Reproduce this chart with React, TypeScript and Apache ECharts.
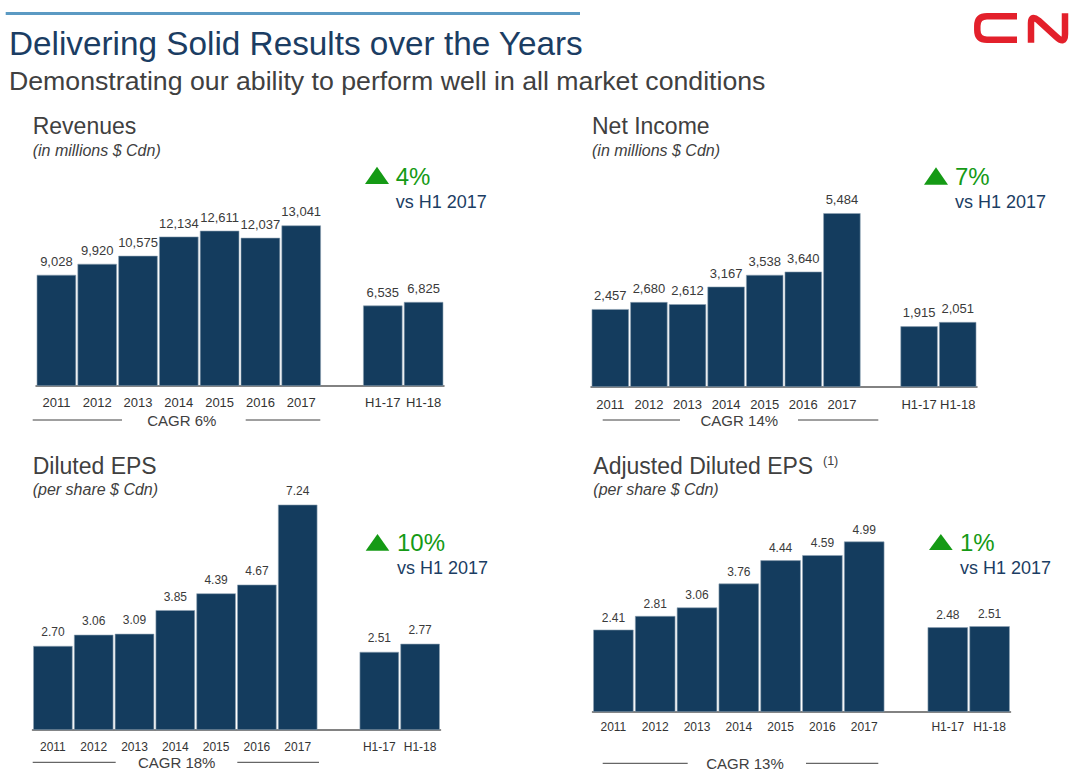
import React, { useEffect, useRef } from "react";
import * as echarts from "echarts";

const categories = ["2011", "2012", "2013", "2014", "2015", "2016", "2017", "", "H1-17", "H1-18"];
const revenues = [9028, 9920, 10575, 12134, 12611, 12037, 13041, null, 6535, 6825];
const netIncome = [2457, 2680, 2612, 3167, 3538, 3640, 5484, null, 1915, 2051];
const dilutedEps = [2.7, 3.06, 3.09, 3.85, 4.39, 4.67, 7.24, null, 2.51, 2.77];
const adjustedEps = [2.41, 2.81, 3.06, 3.76, 4.44, 4.59, 4.99, null, 2.48, 2.51];

const panelTitles = ["Revenues", "Net Income", "Diluted EPS", "Adjusted Diluted EPS"];
const panelSubtitles = ["(in millions $ Cdn)", "(in millions $ Cdn)", "(per share $ Cdn)", "(per share $ Cdn)"];
const growthTexts = ["4%", "7%", "10%", "1%"];
const cagrTexts = ["CAGR 6%", "CAGR 14%", "CAGR 18%", "CAGR 13%"];

const FONT = "'Liberation Sans', Arial, sans-serif";
const BAR = "#143c5e";
const GRAY = "#404040";
const NAVY = "#1b3d63";
const GREEN = "#159a15";

const CN_PATH =
  "M1017 16.3 L987 16.3 Q977.3 16.3 977.3 26 L977.3 30 Q977.3 39.7 987 39.7 L1017 39.7 " +
  "M1031 42.7 L1031 23 Q1031 14.5 1038.5 20.5 L1056 36.5 Q1065 45 1065 34 L1065 13.3";

echarts.graphic.registerShape("cnlogo", echarts.graphic.extendPath(CN_PATH, {}));

const fmtComma = (v: number) => v.toLocaleString("en-US");
const fmtDec = (v: number) => v.toFixed(2);

export default function App() {
  const ref = useRef<HTMLDivElement>(null);

  useEffect(() => {
    if (!ref.current) return;
    const chart = echarts.init(ref.current, null, { renderer: "svg" });

    const grids = [
      { left: 36, top: 189, width: 408, height: 197 },
      { left: 591, top: 181, width: 386, height: 206 },
      { left: 32.5, top: 481, width: 408, height: 249 },
      { left: 592.5, top: 507, width: 418, height: 205 },
    ];
    const maxes = [16000, 6500, 8, 6];
    const datasets = [revenues, netIncome, dilutedEps, adjustedEps];
    const formatters = [fmtComma, fmtComma, fmtDec, fmtDec];
    const labelSizes = [13, 13, 12, 12];
    const axisSizes = [13, 13, 12, 12];
    const axisMargins = [10, 11, 10.5, 9];
    const labelDist = [7, 7, 7.5, 6];

    const text = (x: number, y: number, t: string, size: number, color: string, extra: any = {}) => ({
      type: "text",
      x,
      y,
      silent: true,
      style: {
        text: t,
        fontSize: size,
        fontFamily: FONT,
        fill: color,
        align: "left",
        verticalAlign: "middle",
        ...extra,
      },
    });
    const line = (x1: number, x2: number, y: number) => ({
      type: "line",
      silent: true,
      shape: { x1, y1: y, x2, y2: y },
      style: { stroke: GRAY, lineWidth: 1 },
    });
    const tri = (xl: number, xr: number, yt: number, yb: number) => ({
      type: "polygon",
      silent: true,
      shape: { points: [[xl, yb], [xr, yb], [(xl + xr) / 2, yt]] },
      style: { fill: GREEN },
    });

    const titlePos = [
      [32.7, 125.7, 150.7],
      [592, 125.7, 150.7],
      [32.7, 465.7, 489.3],
      [593.3, 465.7, 489.3],
    ];
    const growthPos = [
      [365, 389, 166.7, 184, 395.7, 176.7, 202.3],
      [924, 948, 167.3, 184.7, 955, 176.7, 202.3],
      [365.7, 389.3, 534, 550.7, 397, 542.3, 568.3],
      [929, 952.7, 534, 550, 960, 542.3, 568.3],
    ];
    const cagrPos = [
      [181.8, 420.7, 32.7, 122, 245.7, 320.3, 420],
      [739.3, 420.7, 602.7, 680, 798, 878.3, 420],
      [176.7, 762.7, 32.7, 115.7, 237.3, 319, 762.3],
      [745, 763.3, 602.7, 687.7, 806, 878.3, 763.3],
    ];

    const graphics: any[] = [
      {
        type: "line",
        silent: true,
        shape: { x1: 5.7, y1: 13.4, x2: 580, y2: 13.4 },
        style: { stroke: "#5b9ac3", lineWidth: 3 },
      },
      text(9, 43, "Delivering Solid Results over the Years", 33.3, NAVY),
      text(9, 81, "Demonstrating our ability to perform well in all market conditions", 26.7, GRAY),
      {
        type: "cnlogo",
        x: 0,
        y: 0,
        silent: true,
        style: { fill: "none", stroke: "#e3202b", lineWidth: 6.5, lineCap: "butt", lineJoin: "round" },
      },
      text(823, 461, "(1)", 12.5, GRAY),
    ];

    for (let i = 0; i < 4; i++) {
      const [tx, ty, sy] = titlePos[i];
      graphics.push(text(tx, ty, panelTitles[i], 23, GRAY));
      graphics.push(text(tx, sy, panelSubtitles[i], 16, GRAY, { fontStyle: "italic" }));
      const g = growthPos[i];
      graphics.push(tri(g[0], g[1], g[2], g[3]));
      graphics.push(text(g[4], g[5], growthTexts[i], 24, GREEN));
      graphics.push(text(g[4], g[6], "vs H1 2017", 18, NAVY));
      const c = cagrPos[i];
      graphics.push(text(c[0], c[1], cagrTexts[i], 15, GRAY, { align: "center" }));
      graphics.push(line(c[2], c[3], c[6]));
      graphics.push(line(c[4], c[5], c[6]));
    }

    const option: any = {
      animation: false,
      backgroundColor: "#ffffff",
      grid: grids.map((g) => ({ ...g, containLabel: false })),
      xAxis: grids.map((_, i) => ({
        type: "category",
        gridIndex: i,
        data: categories,
        axisLine: { show: true, lineStyle: { color: "#5a5a5a", width: 1.5 } },
        axisTick: { show: false },
        axisLabel: {
          interval: 0,
          color: "#333333",
          fontSize: axisSizes[i],
          fontFamily: FONT,
          margin: axisMargins[i],
        },
        splitLine: { show: false },
      })),
      yAxis: grids.map((_, i) => ({
        type: "value",
        gridIndex: i,
        min: 0,
        max: maxes[i],
        show: false,
        splitLine: { show: false },
      })),
      series: datasets.map((d, i) => ({
        type: "bar",
        xAxisIndex: i,
        yAxisIndex: i,
        data: d,
        barCategoryGap: "3.5%",
        itemStyle: { color: BAR, borderColor: "#8fa2b4", borderWidth: 0.6 },
        label: {
          show: true,
          position: "top",
          distance: labelDist[i],
          color: "#3a3a3a",
          fontSize: labelSizes[i],
          fontFamily: FONT,
          formatter: (p: any) => (p.value == null ? "" : formatters[i](p.value)),
        },
      })),
      graphic: { elements: graphics },
    };

    chart.setOption(option);
    return () => chart.dispose();
  }, []);

  return (
    <div
      ref={ref}
      style={{ position: "absolute", left: 0, top: 0, width: 1078, height: 781, background: "#fff" }}
    />
  );
}
